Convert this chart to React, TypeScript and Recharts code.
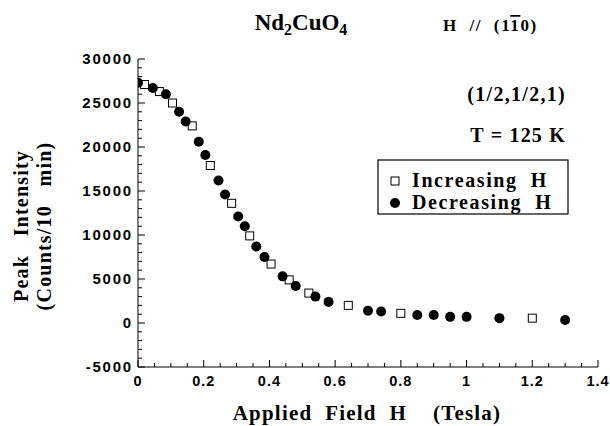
import React from 'react';
import { ScatterChart, Scatter, XAxis, YAxis } from 'recharts';

// Increasing H (open squares)
const incField = [0.02, 0.065, 0.105, 0.165, 0.22, 0.285, 0.34, 0.405, 0.46, 0.52, 0.64, 0.8, 1.2];
const incIntensity = [27100, 26300, 25000, 22400, 17900, 13600, 9900, 6700, 4900, 3400, 2000, 1100, 550];

// Decreasing H (filled circles)
const decField = [0.0, 0.045, 0.085, 0.125, 0.145, 0.185, 0.205, 0.245, 0.265, 0.305, 0.325, 0.36, 0.385, 0.44, 0.48, 0.54, 0.58, 0.7, 0.74, 0.85, 0.9, 0.95, 1.0, 1.1, 1.3];
const decIntensity = [27300, 26700, 26000, 24000, 22900, 20600, 19100, 16200, 14600, 12100, 11000, 8700, 7500, 5300, 4200, 3000, 2400, 1400, 1300, 900, 900, 700, 700, 550, 350];

const xMajorTicks = [0, 0.2, 0.4, 0.6, 0.8, 1, 1.2, 1.4];
const xMinorTicks = [0.05, 0.1, 0.15, 0.25, 0.3, 0.35, 0.45, 0.5, 0.55, 0.65, 0.7, 0.75, 0.85, 0.9, 0.95, 1.05, 1.1, 1.15, 1.25, 1.3, 1.35];
const yMajorTicks = [-5000, 0, 5000, 10000, 15000, 20000, 25000, 30000];
const yMinorStep = 1000;

const yMinorTicks: number[] = [];
for (let v = -5000; v <= 30000; v += yMinorStep) if (!yMajorTicks.includes(v)) yMinorTicks.push(v);
const xTicks = [...xMajorTicks, ...xMinorTicks].sort((a, b) => a - b);
const yTicks = [...yMajorTicks, ...yMinorTicks].sort((a, b) => a - b);

const incData = incField.map((x, i) => ({ x, y: incIntensity[i] }));
const decData = decField.map((x, i) => ({ x, y: decIntensity[i] }));

const isMajorX = (v: number) => xMajorTicks.some((m) => Math.abs(m - v) < 1e-6);
const isMajorY = (v: number) => yMajorTicks.includes(v);

const yTickFont = { fontFamily: '"Liberation Sans", Arial, sans-serif', fontWeight: 700, fontSize: 15, letterSpacing: 1.8 } as const;
const xTickFont = { fontFamily: '"Liberation Sans", Arial, sans-serif', fontWeight: 700, fontSize: 14.5, letterSpacing: 1 } as const;
const serif = '"Liberation Serif", "Times New Roman", serif';

const XTickBottom = (props: any) => {
  const { x, y, payload } = props;
  const major = isMajorX(payload.value);
  return (
    <g>
      <line x1={x} y1={y} x2={x} y2={y - (major ? 7 : 4)} stroke="#000" strokeWidth={1} />
      {major && (
        <text x={x} y={y + 19} textAnchor="middle" fill="#000" style={xTickFont}>
          {String(payload.value)}
        </text>
      )}
    </g>
  );
};
const XTickTop = (props: any) => {
  const { x, y, payload } = props;
  const major = isMajorX(payload.value);
  return <line x1={x} y1={y} x2={x} y2={y + (major ? 7 : 4)} stroke="#000" strokeWidth={1} />;
};
const YTickLeft = (props: any) => {
  const { x, y, payload } = props;
  const major = isMajorY(payload.value);
  return (
    <g>
      <line x1={x} y1={y} x2={x + (major ? 7 : 4)} y2={y} stroke="#000" strokeWidth={1} />
      {major && (
        <text x={x - 5} y={y + 5} textAnchor="end" fill="#000" style={yTickFont}>
          {String(payload.value)}
        </text>
      )}
    </g>
  );
};
const YTickRight = (props: any) => {
  const { x, y, payload } = props;
  const major = isMajorY(payload.value);
  return <line x1={x} y1={y} x2={x - (major ? 7 : 4)} y2={y} stroke="#000" strokeWidth={1} />;
};

const SquareShape = (props: any) => {
  const { cx, cy } = props;
  return <rect x={cx - 4} y={cy - 4} width={8} height={8} fill="#fff" stroke="#000" strokeWidth={1} />;
};
const CircleShape = (props: any) => {
  const { cx, cy } = props;
  return <circle cx={cx} cy={cy} r={5} fill="#000" stroke="none" />;
};

export default function App() {
  const W = 610;
  const H = 426;
  return (
    <div style={{ position: 'absolute', left: 0, top: 0, width: W, height: H, background: '#fff' }}>
      <ScatterChart width={W} height={H} margin={{ top: 59, right: 12, bottom: 0, left: 0 }}>
        <XAxis
          xAxisId="b"
          type="number"
          dataKey="x"
          domain={[0, 1.4]}
          ticks={xTicks}
          interval={0}
          height={59}
          tickSize={0}
          tickMargin={0}
          tickLine={false}
          axisLine={{ stroke: '#000', strokeWidth: 1 }}
          tick={<XTickBottom />}
          allowDataOverflow
        />
        <XAxis
          xAxisId="t"
          orientation="top"
          type="number"
          domain={[0, 1.4]}
          ticks={xTicks}
          interval={0}
          height={0}
          tickSize={0}
          tickMargin={0}
          tickLine={false}
          axisLine={{ stroke: '#000', strokeWidth: 1 }}
          tick={<XTickTop />}
          allowDataOverflow
        />
        <YAxis
          yAxisId="l"
          type="number"
          dataKey="y"
          domain={[-5000, 30000]}
          ticks={yTicks}
          interval={0}
          width={138}
          tickSize={0}
          tickMargin={0}
          tickLine={false}
          axisLine={{ stroke: '#000', strokeWidth: 1 }}
          tick={<YTickLeft />}
          allowDataOverflow
        />
        <YAxis
          yAxisId="r"
          orientation="right"
          type="number"
          domain={[-5000, 30000]}
          ticks={yTicks}
          interval={0}
          width={0}
          tickSize={0}
          tickMargin={0}
          tickLine={false}
          axisLine={{ stroke: '#000', strokeWidth: 1 }}
          tick={<YTickRight />}
          allowDataOverflow
        />
        <Scatter name="Increasing H" data={incData} xAxisId="b" yAxisId="l" shape={<SquareShape />} isAnimationActive={false} />
        <Scatter name="Decreasing H" data={decData} xAxisId="b" yAxisId="l" shape={<CircleShape />} isAnimationActive={false} />
      </ScatterChart>
      <svg width={W} height={H} style={{ position: 'absolute', left: 0, top: 0, pointerEvents: 'none' }}>
        <g fontFamily={serif} fontWeight={700} fill="#000">
          <text x={301} y={30} textAnchor="middle" fontSize={23}>
            Nd<tspan fontSize={16} dy={5}>2</tspan>
            <tspan dy={-5}>CuO</tspan>
            <tspan fontSize={16} dy={5}>4</tspan>
          </text>
          <text x={443} y={31} fontSize={17} letterSpacing={1.6} style={{ whiteSpace: 'pre' }}>
            {'H  //  (1'}
            <tspan style={{ textDecoration: 'overline' }}>1</tspan>
            {'0)'}
          </text>
          <text x={566} y={101} textAnchor="end" fontSize={20} letterSpacing={1.3}>(1/2,1/2,1)</text>
          <text x={566} y={142} textAnchor="end" fontSize={20} letterSpacing={1.2} style={{ whiteSpace: 'pre' }}>{'T = 125 K'}</text>
          <rect x={378} y={160} width={190} height={54} fill="#fff" stroke="#000" strokeWidth={1.2} />
          <rect x={391} y={177} width={8} height={8} fill="#fff" stroke="#000" strokeWidth={1} />
          <text x={412} y={187} fontSize={20} letterSpacing={1.6} style={{ whiteSpace: 'pre' }}>{'Increasing  H'}</text>
          <circle cx={395} cy={203} r={5} fill="#000" />
          <text x={412} y={209} fontSize={20} letterSpacing={1.6} style={{ whiteSpace: 'pre' }}>{'Decreasing  H'}</text>
          <text x={367} y={420} textAnchor="middle" fontSize={21} letterSpacing={1.2} style={{ whiteSpace: 'pre' }}>
            {'Applied  Field  H    (Tesla)'}
          </text>
          <text transform="translate(28,226) rotate(-90)" textAnchor="middle" fontSize={20} letterSpacing={1.2} style={{ whiteSpace: 'pre' }}>
            {'Peak   Intensity'}
          </text>
          <text transform="translate(51,226) rotate(-90)" textAnchor="middle" fontSize={20} letterSpacing={1.2} style={{ whiteSpace: 'pre' }}>
            {'(Counts/10   min)'}
          </text>
        </g>
      </svg>
    </div>
  );
}
